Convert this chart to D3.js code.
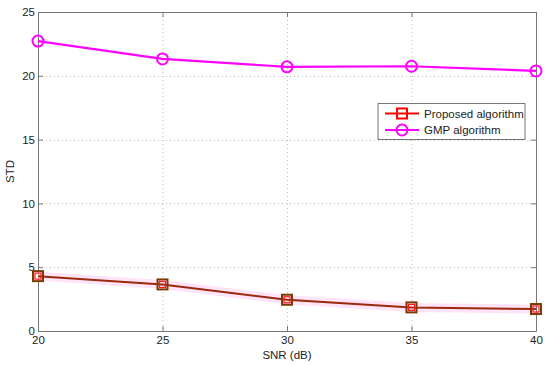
<!DOCTYPE html>
<html>
<head>
<meta charset="utf-8">
<script src="https://cdn.jsdelivr.net/npm/d3@7"></script>
<style>
  body { margin: 0; background: #fff; }
  svg text { font-family: "Liberation Sans", Arial, sans-serif; fill: #222; }
</style>
</head>
<body>
<div id="chart"></div>
<script>
// data
var snr = [20, 25, 30, 35, 40];
var proposed = [4.3, 3.65, 2.45, 1.85, 1.72];
var gmp = [22.72, 21.32, 20.7, 20.75, 20.38];
var xTicks = [20, 25, 30, 35, 40];
var yTicks = [0, 5, 10, 15, 20, 25];

var width = 550, height = 365,
    margin = {top: 12, right: 14, bottom: 34, left: 38};

var svg = d3.select('#chart').append('svg')
    .attr('width', width)
    .attr('height', height);

var x = d3.scaleLinear().domain([20, 40]).range([margin.left, width - margin.right]),
    y = d3.scaleLinear().domain([0, 25]).range([height - margin.bottom, margin.top]);

var x0 = x.range()[0], x1 = x.range()[1], y0 = y.range()[0], y1 = y.range()[1];

// dotted grid
var grid = svg.append('g').attr('stroke', '#bbb').attr('stroke-width', 1).attr('stroke-dasharray', '1,3');
grid.selectAll('.gx').data(xTicks.slice(1, -1)).enter().append('line')
    .attr('x1', d => x(d) + 0.5).attr('x2', d => x(d) + 0.5)
    .attr('y1', y1).attr('y2', y0);
grid.selectAll('.gy').data(yTicks.slice(1, -1)).enter().append('line')
    .attr('y1', d => Math.round(y(d)) + 0.5).attr('y2', d => Math.round(y(d)) + 0.5)
    .attr('x1', x0).attr('x2', x1);

// axes with inward ticks on all four sides
function axis(gen, tr) {
    var g = svg.append('g').attr('transform', tr).call(gen);
    g.select('.domain').attr('stroke', '#777');
    g.selectAll('.tick line').attr('stroke', '#777');
    g.selectAll('text').attr('font-size', 11.5).attr('fill', '#222');
    return g;
}
axis(d3.axisBottom(x).tickValues(xTicks).tickSizeInner(-5).tickSizeOuter(0).tickPadding(5),
    'translate(0,' + y0 + ')');
axis(d3.axisTop(x).tickValues(xTicks).tickSizeInner(-5).tickSizeOuter(0).tickFormat(''),
    'translate(0,' + y1 + ')');
axis(d3.axisLeft(y).tickValues(yTicks).tickSizeInner(-5).tickSizeOuter(0).tickPadding(3),
    'translate(' + x0 + ',0)');
axis(d3.axisRight(y).tickValues(yTicks).tickSizeInner(-5).tickSizeOuter(0).tickFormat(''),
    'translate(' + x1 + ',0)');

svg.append('text').attr('x', (x0 + x1) / 2).attr('y', 359)
    .attr('text-anchor', 'middle').attr('font-size', 11.5).text('SNR (dB)');
svg.append('text').attr('transform', 'translate(14,' + ((y0 + y1) / 2) + ') rotate(-90)')
    .attr('text-anchor', 'middle').attr('font-size', 11.5).text('STD');

var line = d3.line().x(d => x(d[0])).y(d => y(d[1]));
var propPts = snr.map((s, i) => [s, proposed[i]]);
var gmpPts = snr.map((s, i) => [s, gmp[i]]);

// faint pink halo under the lower curve
svg.append('path').datum(propPts).attr('d', line)
    .attr('fill', 'none').attr('stroke', '#ffdcf6').attr('stroke-width', 9).attr('opacity', 0.8);

// GMP
svg.append('path').datum(gmpPts).attr('d', line)
    .attr('fill', 'none').attr('stroke', '#ff00ff').attr('stroke-width', 2.2);
svg.selectAll('.gmpm').data(gmpPts).enter().append('circle')
    .attr('cx', d => x(d[0])).attr('cy', d => y(d[1])).attr('r', 5.5)
    .attr('fill', 'none').attr('stroke', '#ff00ff').attr('stroke-width', 2);

// proposed
svg.append('path').datum(propPts).attr('d', line)
    .attr('fill', 'none').attr('stroke', '#9a2a0c').attr('stroke-width', 2);
svg.selectAll('.propm').data(propPts).enter().append('rect')
    .attr('x', d => x(d[0]) - 5).attr('y', d => y(d[1]) - 5)
    .attr('width', 10).attr('height', 10)
    .attr('fill', 'none').attr('stroke', '#7a3a05').attr('stroke-width', 2);
svg.selectAll('.propi').data(propPts).enter().append('rect')
    .attr('x', d => x(d[0]) - 3).attr('y', d => y(d[1]) - 3)
    .attr('width', 6).attr('height', 6)
    .attr('fill', 'none').attr('stroke', '#ff1a1a').attr('stroke-width', 1.2);

// legend
var lg = svg.append('g').attr('transform', 'translate(378,103.5)');
lg.append('rect').attr('width', 147).attr('height', 36)
    .attr('fill', '#fff').attr('stroke', '#777').attr('stroke-width', 1);
var entries = [
    {name: 'Proposed algorithm', color: '#ff0000', mark: 'square'},
    {name: 'GMP algorithm', color: '#ff00ff', mark: 'circle'}
];
entries.forEach(function (e, i) {
    var cy = 10 + i * 16.5;
    lg.append('line').attr('x1', 7).attr('x2', 41).attr('y1', cy).attr('y2', cy)
        .attr('stroke', e.color).attr('stroke-width', 2.2);
    if (e.mark === 'square') {
        lg.append('rect').attr('x', 24 - 5).attr('y', cy - 5).attr('width', 10).attr('height', 10)
            .attr('fill', 'none').attr('stroke', e.color).attr('stroke-width', 2);
    } else {
        lg.append('circle').attr('cx', 24).attr('cy', cy).attr('r', 5.5)
            .attr('fill', 'none').attr('stroke', e.color).attr('stroke-width', 2);
    }
    lg.append('text').attr('x', 46).attr('y', cy + 4).attr('font-size', 11.5).text(e.name);
});
</script>
</body>
</html>
